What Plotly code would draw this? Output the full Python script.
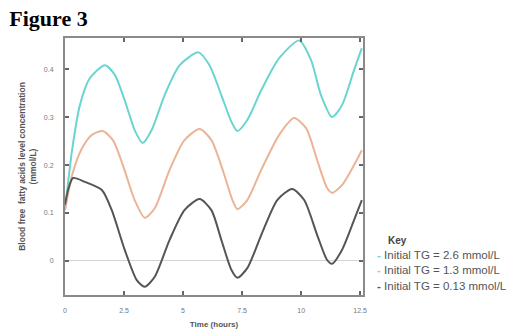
import plotly.graph_objects as go

# Time (hours) and blood free fatty acid concentration (mmol/L)
t_high = [0, 0.30, 0.63, 1.05, 1.69, 2.11, 2.53, 2.95, 3.29, 3.67, 4.22, 4.85, 5.65, 6.12, 6.62,
          7.05, 7.30, 7.72, 8.31, 9.07, 9.92, 10.42, 10.84, 11.31, 11.73, 12.24, 12.57]
v_high = [0.106, 0.231, 0.325, 0.381, 0.408, 0.388, 0.335, 0.273, 0.246, 0.273, 0.346, 0.408,
          0.435, 0.408, 0.346, 0.290, 0.271, 0.294, 0.356, 0.423, 0.460, 0.419, 0.346, 0.300,
          0.325, 0.398, 0.444]

t_mid = [0, 0.30, 0.72, 1.14, 1.60, 2.03, 2.45, 2.95, 3.38, 3.80, 4.43, 5.06, 5.70, 6.20, 6.71,
         7.09, 7.30, 7.72, 8.31, 9.07, 9.70, 10.21, 10.68, 11.10, 11.31, 11.73, 12.24, 12.57]
v_mid = [0.106, 0.179, 0.235, 0.263, 0.271, 0.252, 0.200, 0.127, 0.090, 0.110, 0.190, 0.252,
         0.275, 0.252, 0.185, 0.127, 0.108, 0.127, 0.190, 0.263, 0.298, 0.277, 0.210, 0.152,
         0.142, 0.158, 0.200, 0.231]

t_low = [0, 0.13, 0.34, 0.84, 1.56, 1.98, 2.53, 3.04, 3.38, 3.80, 4.43, 5.06, 5.70, 6.20, 6.62,
         7.05, 7.30, 7.72, 8.31, 8.99, 9.62, 10.13, 10.68, 11.10, 11.31, 11.73, 12.24, 12.57]
v_low = [0.117, 0.148, 0.173, 0.165, 0.148, 0.106, 0.023, -0.040, -0.054, -0.033, 0.044, 0.106,
         0.129, 0.106, 0.044, -0.019, -0.035, -0.015, 0.054, 0.127, 0.150, 0.127, 0.054, 0.002,
         -0.006, 0.023, 0.085, 0.127]

x_ticks = [0, 2.5, 5, 7.5, 10, 12.5]
x_tick_labels = ["0", "2.5", "5", "7.5", "10", "12.5"]
y_ticks = [0, 0.1, 0.2, 0.3, 0.4]
y_tick_labels = ["0", "0.1", "0.2", "0.3", "0.4"]

series_names = ["Initial TG = 2.6 mmol/L", "Initial TG = 1.3 mmol/L", "Initial TG = 0.13 mmol/L"]
series_colors = ["#6ad4d1", "#ebb495", "#555555"]
legend_key = "Key"

fig = go.Figure()
for t, v, name, col in zip([t_high, t_mid, t_low], [v_high, v_mid, v_low], series_names, series_colors):
    fig.add_trace(go.Scatter(x=t, y=v, mode="lines", name=name, showlegend=False,
                             line=dict(color=col, width=2, shape="spline", smoothing=0.7)))

axis_common = dict(showline=True, linecolor="#8a8a8a", linewidth=2, mirror="ticks",
                   ticks="inside", ticklen=4, tickcolor="#666", tickwidth=1.5,
                   showgrid=False, automargin=False,
                   tickfont=dict(family="Liberation Sans", size=7, color="#777"))

fig.update_xaxes(range=[0, 12.62], tickvals=x_ticks, ticktext=x_tick_labels, zeroline=False,
                 ticklabelstandoff=8,
                 title=dict(text="<b>Time (hours)</b>", font=dict(family="Liberation Sans", size=8, color="#555"),
                            standoff=8),
                 **axis_common)
fig.update_yaxes(range=[-0.071, 0.465], tickvals=y_ticks, ticktext=y_tick_labels,
                 zeroline=True, zerolinecolor="#d4d4d4", zerolinewidth=1,
                 ticklabelstandoff=8,
                 title=dict(text="<b>Blood free  fatty acids level concentration<br>(mmol/L)</b>",
                            font=dict(family="Liberation Sans", size=8.5, color="#555"), standoff=6),
                 **axis_common)

# Legend drawn as text at the right side
legend_y = [0.156, 0.097, 0.035]
fig.add_annotation(xref="paper", yref="paper", x=1.077, y=0.214, xanchor="left", yanchor="middle",
                   text="<b>" + legend_key + "</b>", showarrow=False,
                   font=dict(family="Liberation Sans", size=10, color="#444"))
for name, col, yy in zip(series_names, series_colors, legend_y):
    fig.add_annotation(xref="paper", yref="paper", x=1.040, y=yy, xanchor="left", yanchor="middle",
                       text='<span style="color:' + col + '"><b>-</b></span> ' + name, showarrow=False,
                       font=dict(family="Liberation Sans", size=11.5, color="#555"))

fig.update_layout(
    width=514, height=335,
    margin=dict(l=65, r=151, t=38, b=40),
    paper_bgcolor="white", plot_bgcolor="white",
    title=dict(text="<b>Figure 3</b>", x=0.018, xanchor="left", y=0.945, yanchor="middle",
               font=dict(family="Liberation Serif", size=22, color="black")),
    showlegend=False,
)

fig.write_html("out.html", config={"displayModeBar": False},
               post_script="document.body.style.margin='0px';document.body.style.overflow='hidden';")
